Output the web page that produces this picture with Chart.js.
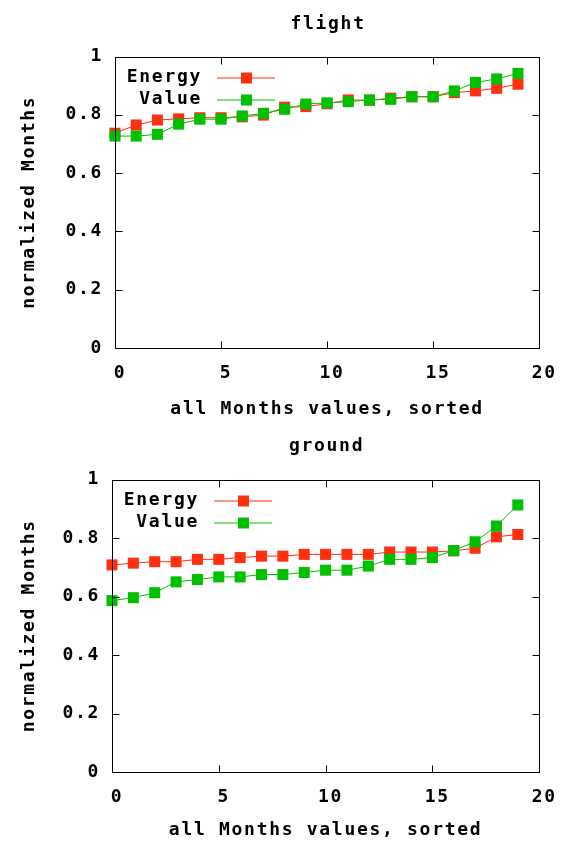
<!DOCTYPE html>
<html>
<head>
<meta charset="utf-8">
<script src="https://cdn.jsdelivr.net/npm/chart.js@4/dist/chart.umd.min.js"></script>
<style>
  body{margin:0;background:#fff;}
  canvas{position:absolute;left:0;}
</style>
</head>
<body>
<canvas id="flightChart" width="565" height="421" style="top:0"></canvas>
<canvas id="groundChart" width="565" height="421" style="top:421px"></canvas>
<script>
// x positions (month index after sorting)
const months=[0,1,2,3,4,5,6,7,8,9,10,11,12,13,14,15,16,17,18,19];

// flight
const flightEnergy=[0.737,0.765,0.782,0.786,0.790,0.790,0.793,0.799,0.826,0.828,0.838,0.851,0.850,0.857,0.862,0.862,0.876,0.882,0.891,0.905];
const flightValue=[0.727,0.727,0.733,0.768,0.785,0.785,0.796,0.805,0.819,0.837,0.841,0.845,0.851,0.853,0.862,0.862,0.882,0.911,0.923,0.942];

// ground
const groundEnergy=[0.708,0.714,0.719,0.719,0.727,0.727,0.733,0.738,0.738,0.744,0.744,0.744,0.744,0.752,0.752,0.752,0.756,0.765,0.804,0.812];
const groundValue=[0.586,0.596,0.613,0.650,0.658,0.667,0.667,0.675,0.675,0.682,0.690,0.690,0.704,0.727,0.727,0.733,0.757,0.787,0.841,0.913];

const xTicks=[0,5,10,15,20];
const yTicks=[0,0.2,0.4,0.6,0.8,1];

const RED='#ff3010', GREEN='#00c000';
const FONT="'DejaVu Sans Mono', monospace";
const font={family:FONT,size:18,weight:'bold'};

// gnuplot look: box, inward ticks on all 4 sides, legend inside, title over plot
const gnuplotBox={
  id:'gnuplotBox',
  beforeDraw(chart){ chart.ctx.letterSpacing='1.7px'; },
  afterDraw(chart,args,opts){
    const {ctx,chartArea:a,scales}=chart;
    const L=Math.round(a.left)+0.5,R=Math.round(a.right)+0.5,T=Math.round(a.top)+0.5,B=Math.round(a.bottom)+0.5;
    const tl=7;
    ctx.save();
    ctx.strokeStyle='#000';ctx.lineWidth=1;
    ctx.beginPath();
    xTicks.forEach(v=>{
      const px=Math.round(scales.x.getPixelForValue(v))+0.5;
      ctx.moveTo(px,B);ctx.lineTo(px,B-tl);
      ctx.moveTo(px,T);ctx.lineTo(px,T+tl);
    });
    yTicks.forEach(v=>{
      const py=Math.round(scales.y.getPixelForValue(v))+0.5;
      ctx.moveTo(L,py);ctx.lineTo(L+tl,py);
      ctx.moveTo(R,py);ctx.lineTo(R-tl,py);
    });
    ctx.stroke();
    ctx.strokeRect(L,T,R-L,B-T);

    // title
    ctx.fillStyle='#000';
    ctx.font='bold 18px '+FONT;
    ctx.textAlign='center';ctx.textBaseline='middle';
    ctx.fillText(opts.title,(a.left+a.right)/2+1,opts.titleY);

    // key
    chart.data.datasets.slice().sort((p,q)=>p.keyRow-q.keyRow).forEach((ds,i)=>{
      const y=a.top+21+i*22;
      ctx.fillStyle='#000';ctx.textAlign='right';
      ctx.fillText(ds.label,a.left+87,y);
      ctx.strokeStyle=ds.borderColor;
      ctx.beginPath();ctx.moveTo(a.left+102,y+0.5);ctx.lineTo(a.left+160,y+0.5);ctx.stroke();
      ctx.fillStyle=ds.borderColor;
      ctx.fillRect(a.left+126,y-5,11,11);
    });
    ctx.restore();
  }
};

function makeChart(id,title,energy,value,box){
  const pts=arr=>months.map((m,i)=>({x:m,y:arr[i]}));
  return new Chart(document.getElementById(id),{
    type:'line',
    data:{
      datasets:[
        {label:'Energy',keyRow:0,data:pts(energy),borderColor:RED,backgroundColor:RED,order:1},
        {label:'Value',keyRow:1,data:pts(value),borderColor:GREEN,backgroundColor:GREEN,order:0}
      ].map(d=>Object.assign(d,{borderWidth:1,pointStyle:'rect',pointRadius:7.8,pointHoverRadius:7.8,pointBorderWidth:0,fill:false,tension:0,clip:false}))
    },
    options:{
      responsive:false,animation:false,devicePixelRatio:1,
      events:[],
      layout:{padding:{top:box.top,right:565-box.right,left:0,bottom:0}},
      plugins:{legend:{display:false},tooltip:{enabled:false},title:{display:false},
        gnuplotBox:{title,titleY:box.titleY}},
      scales:{
        x:{type:'linear',min:0,max:20,
          afterBuildTicks:s=>{s.ticks=xTicks.map(v=>({value:v}));},
          afterFit:s=>{s.height=421-box.bottom;},
          grid:{display:false,drawTicks:false},border:{display:false},
          ticks:{font,color:'#000',padding:15,labelOffset:5,maxRotation:0,autoSkip:false,callback:v=>String(v)},
          title:{display:true,text:'all Months values, sorted',font,color:'#000',padding:{top:0,bottom:0.5}}
        },
        y:{min:0,max:1,
          afterBuildTicks:s=>{s.ticks=yTicks.map(v=>({value:v}));},
          afterFit:s=>{s.width=box.left;},
          grid:{display:false,drawTicks:false},border:{display:false},
          ticks:{font,color:'#000',padding:12,autoSkip:false,callback:v=>String(+(+v).toFixed(1))},
          title:{display:true,text:'normalized Months',font,color:'#000',padding:{top:19,bottom:0}}
        }
      }
    },
    plugins:[gnuplotBox]
  });
}

makeChart('flightChart','flight',flightEnergy,flightValue,{left:115,right:543.5,top:56.5,bottom:348,titleY:24});
makeChart('groundChart','ground',groundEnergy,groundValue,{left:112,right:543,top:58.5,bottom:351,titleY:25});
</script>
</body>
</html>
